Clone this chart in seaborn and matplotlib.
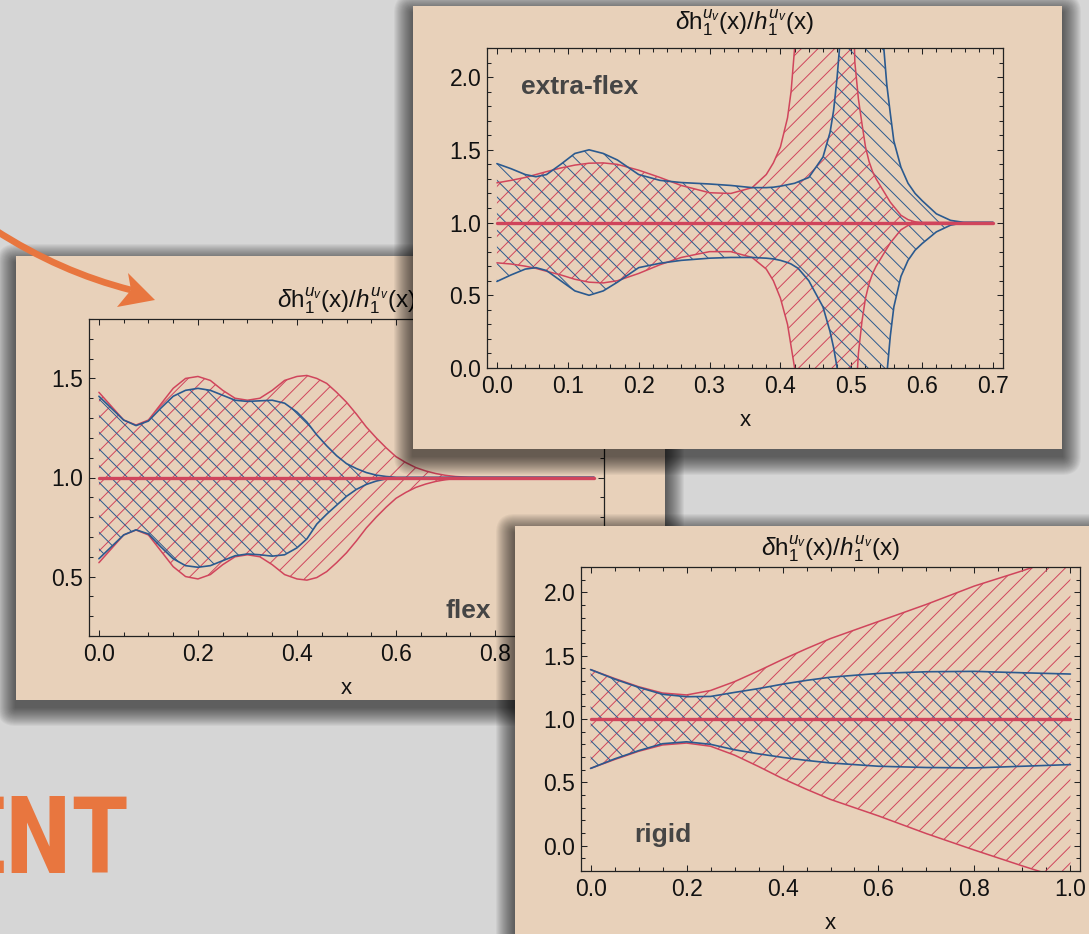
import matplotlib
matplotlib.use("Agg")
import matplotlib.pyplot as plt
import seaborn as sns
from matplotlib import font_manager as fm
from matplotlib.patches import FancyBboxPatch, Rectangle, PathPatch, Polygon
from matplotlib.path import Path
from matplotlib.ticker import MultipleLocator, FormatStrFormatter

# ---------------- data ----------------
flex_x = [0, 0.025, 0.05, 0.075, 0.1, 0.125, 0.15, 0.175, 0.2, 0.225, 0.25, 0.275,
          0.3, 0.325, 0.35, 0.375, 0.4, 0.42, 0.44, 0.46, 0.48, 0.5, 0.52, 0.54,
          0.56, 0.58, 0.6, 0.62, 0.64, 0.66, 0.68, 0.7, 0.72, 0.75, 0.8, 0.9, 1.0]
flex_red_up = [1.43, 1.36, 1.29, 1.265, 1.29, 1.37, 1.45, 1.50, 1.51, 1.49, 1.44, 1.40,
               1.39, 1.40, 1.44, 1.49, 1.51, 1.515, 1.50, 1.475, 1.43, 1.38, 1.32, 1.255,
               1.20, 1.15, 1.105, 1.075, 1.05, 1.033, 1.02, 1.011, 1.005, 1.001, 1.0, 1.0, 1.0]
flex_red_lo = [0.57, 0.64, 0.71, 0.735, 0.71, 0.63, 0.55, 0.50, 0.488, 0.51, 0.56, 0.60,
               0.61, 0.60, 0.56, 0.51, 0.488, 0.482, 0.495, 0.525, 0.57, 0.62, 0.68, 0.745,
               0.80, 0.85, 0.895, 0.925, 0.95, 0.967, 0.98, 0.989, 0.995, 0.999, 1.0, 1.0, 1.0]
flex_blue_up = [1.41, 1.35, 1.29, 1.262, 1.285, 1.35, 1.41, 1.44, 1.45, 1.44, 1.415, 1.39,
                1.384, 1.387, 1.39, 1.375, 1.33, 1.28, 1.215, 1.16, 1.11, 1.07, 1.045, 1.025,
                1.012, 1.005, 1.001, 1.0, 1.0, 1.0, 1.0, 1.0, 1.0, 1.0, 1.0, 1.0, 1.0]
flex_blue_lo = [0.59, 0.65, 0.71, 0.736, 0.715, 0.65, 0.59, 0.555, 0.547, 0.555, 0.58, 0.605,
                0.614, 0.61, 0.603, 0.61, 0.645, 0.69, 0.765, 0.815, 0.86, 0.905, 0.94, 0.965,
                0.982, 0.993, 0.998, 1.0, 1.0, 1.0, 1.0, 1.0, 1.0, 1.0, 1.0, 1.0, 1.0]

# values of 3.0 / -1.0 mean "off the top / bottom of the frame"
ef_x = [0, 0.02, 0.04, 0.055, 0.07, 0.09, 0.11, 0.13, 0.15, 0.17,
        0.2, 0.23, 0.26, 0.3, 0.33, 0.36, 0.38, 0.39, 0.4, 0.41,
        0.415, 0.42, 0.425, 0.44, 0.46, 0.47, 0.475, 0.48, 0.485, 0.49,
        0.5, 0.505, 0.51, 0.515, 0.52, 0.525, 0.53, 0.535, 0.54, 0.545,
        0.55, 0.555, 0.56, 0.57, 0.58, 0.59, 0.6, 0.62, 0.64, 0.66,
        0.68, 0.7]
ef_red_up = [1.273, 1.29, 1.31, 1.33, 1.35, 1.375, 1.395, 1.408, 1.41, 1.40,
             1.36, 1.31, 1.255, 1.205, 1.20, 1.24, 1.33, 1.41, 1.52, 1.72,
             1.9, 2.2, 3.0, 3.0, 3.0, 3.0, 3.0, 3.0, 3.0, 3.0,
             3.0, 2.1, 1.85, 1.68, 1.52, 1.42, 1.35, 1.30, 1.26, 1.22,
             1.18, 1.14, 1.11, 1.05, 1.02, 1.005, 1.0, 1.0, 1.0, 1.0,
             1.0, 1.0]
ef_red_lo = [0.723, 0.715, 0.70, 0.685, 0.665, 0.64, 0.61, 0.59, 0.585, 0.60,
             0.65, 0.71, 0.76, 0.80, 0.80, 0.76, 0.68, 0.60, 0.48, 0.30,
             0.15, 0.0, -1.0, -1.0, -1.0, -1.0, -1.0, -1.0, -1.0, -1.0,
             -1.0, -0.3, 0.1, 0.32, 0.48, 0.58, 0.65, 0.70, 0.74, 0.78,
             0.82, 0.86, 0.89, 0.95, 0.98, 0.995, 1.0, 1.0, 1.0, 1.0,
             1.0, 1.0]
ef_blue_up = [1.405, 1.37, 1.33, 1.315, 1.33, 1.40, 1.475, 1.50, 1.475, 1.43,
              1.33, 1.29, 1.275, 1.265, 1.255, 1.24, 1.24, 1.243, 1.25, 1.26,
              1.265, 1.27, 1.28, 1.31, 1.45, 1.62, 1.77, 2.0, 2.3, 3.0,
              3.0, 3.0, 3.0, 3.0, 3.0, 3.0, 3.0, 3.0, 3.0, 2.25,
              1.95, 1.75, 1.56, 1.38, 1.27, 1.2, 1.15, 1.06, 1.015, 1.0,
              1.0, 1.0]
ef_blue_lo = [0.595, 0.64, 0.68, 0.69, 0.67, 0.60, 0.53, 0.50, 0.53, 0.59,
              0.69, 0.72, 0.74, 0.755, 0.76, 0.76, 0.755, 0.75, 0.74, 0.725,
              0.715, 0.70, 0.685, 0.60, 0.42, 0.25, 0.14, 0.0, -0.5, -1.0,
              -1.0, -1.0, -1.0, -1.0, -1.0, -1.0, -1.0, -1.0, -1.0, -1.0,
              -0.05, 0.22, 0.42, 0.63, 0.74, 0.81, 0.856, 0.936, 0.982, 1.0,
              1.0, 1.0]

rig_x = [0, 0.05, 0.1, 0.15, 0.2, 0.25, 0.3, 0.35, 0.4, 0.45, 0.5, 0.6, 0.7, 0.8, 0.9, 1.0]
rig_red_up = [1.39, 1.32, 1.255, 1.205, 1.19, 1.225, 1.295, 1.38, 1.47, 1.555, 1.635,
              1.77, 1.905, 2.05, 2.17, 2.3]
rig_red_lo = [0.61, 0.68, 0.745, 0.795, 0.81, 0.785, 0.715, 0.625, 0.53, 0.445, 0.365,
              0.235, 0.095, -0.035, -0.16, -0.28]
rig_blue_up = [1.39, 1.315, 1.25, 1.195, 1.176, 1.178, 1.21, 1.24, 1.275, 1.305, 1.33,
               1.36, 1.373, 1.376, 1.365, 1.355]
rig_blue_lo = [0.61, 0.685, 0.75, 0.805, 0.82, 0.80, 0.757, 0.725, 0.697, 0.673, 0.653,
               0.627, 0.617, 0.614, 0.627, 0.64]

TITLE = r"$\delta\mathrm{h}_1^{u_v}\mathrm{(x)/}h_1^{u_v}\mathrm{(x)}$"
labels = ["flex", "extra-flex", "rigid"]
BIG_TEXT = "ENT"

# ---------------- style ----------------
W, H = 1089, 934
GREY = "#d6d6d6"
BEIGE = "#e8d1ba"
RED = "#d0455c"
BLUE = "#2b5a8f"
ORANGE = "#e8763f"
LABEL = "#454545"

sns.set_theme(style="ticks")
plt.rcParams["font.family"] = ["Liberation Sans", "DejaVu Sans"]
plt.rcParams.update({
    "mathtext.fontset": "custom",
    "mathtext.rm": "Liberation Sans",
    "mathtext.it": "Liberation Sans:italic",
    "mathtext.bf": "Liberation Sans:bold",
    "hatch.linewidth": 0.7,
    "axes.linewidth": 0.9,
    "axes.edgecolor": "#222222",
    "lines.solid_joinstyle": "round",
})


def condensed_bold():
    """Look for an installed condensed / narrow bold face."""
    prefs = ["liberation sans narrow", "roboto condensed", "open sans condensed",
             "dejavu sans condensed", "noto sans condensed"]
    found = []
    for f in fm.fontManager.ttflist:
        key = (f.name + " " + str(f.fname)).lower()
        stretch = str(f.stretch).lower()
        cond = ("narrow" in key or "condensed" in key or "condensed" in stretch)
        try:
            w = int(f.weight)
        except (TypeError, ValueError):
            w = {"bold": 700, "heavy": 800, "black": 900, "semibold": 600,
                 "demibold": 600, "extra bold": 800}.get(str(f.weight).lower(), 400)
        if cond and w >= 600 and str(f.style).lower() == "normal" and "mono" not in key:
            rank = len(prefs)
            for i, p in enumerate(prefs):
                if p in key:
                    rank = i
                    break
            found.append((rank, f.fname))
    if found:
        found.sort()
        return found[0][1]
    return None


fig = plt.figure(figsize=(W / 100, H / 100), dpi=100, facecolor=GREY)


def frac(l, t, r, b):
    return [l / W, 1 - b / H, (r - l) / W, (b - t) / H]


def panel_background(l, t, r, b, z):
    bg = fig.add_axes([0, 0, 1, 1], zorder=z)
    bg.set_xlim(0, W)
    bg.set_ylim(H, 0)
    bg.axis("off")
    dy = 7
    for p in range(1, 20):
        bg.add_patch(FancyBboxPatch((l, t + dy), r - l, b - t,
                                    boxstyle=f"round,pad={p},rounding_size={p}",
                                    facecolor="black", edgecolor="none", alpha=0.04))
    bg.add_patch(Rectangle((l, t), r - l, b - t, facecolor=BEIGE, edgecolor="none"))
    return bg


def draw_panel(axbox, z, xs, rup, rlo, bup, blo, xlim, ylim, xmaj, xminor, label, lxy,
               title_pad):
    ax = fig.add_axes(frac(*axbox), zorder=z)
    ax.set_facecolor("none")
    ax.fill_between(xs, rlo, rup, facecolor="none", edgecolor=RED, hatch="//",
                    linewidth=0, zorder=1)
    ax.fill_between(xs, blo, bup, facecolor="none", edgecolor=BLUE, hatch="\\\\",
                    linewidth=0, zorder=1)
    for ys in (rup, rlo):
        sns.lineplot(x=xs, y=ys, ax=ax, color=RED, linewidth=1.1, estimator=None,
                     sort=False, zorder=2)
    for ys in (bup, blo):
        sns.lineplot(x=xs, y=ys, ax=ax, color=BLUE, linewidth=1.2, estimator=None,
                     sort=False, zorder=2)
    sns.lineplot(x=[xs[0], xs[-1]], y=[1.0, 1.0], ax=ax, color=RED, linewidth=2.4,
                 estimator=None, sort=False, zorder=3)
    ax.set_xlim(*xlim)
    ax.set_ylim(*ylim)
    ax.xaxis.set_major_locator(MultipleLocator(xmaj))
    ax.xaxis.set_minor_locator(MultipleLocator(xminor))
    ax.yaxis.set_major_locator(MultipleLocator(0.5))
    ax.yaxis.set_minor_locator(MultipleLocator(0.1))
    ax.xaxis.set_major_formatter(FormatStrFormatter("%.1f"))
    ax.yaxis.set_major_formatter(FormatStrFormatter("%.1f"))
    ax.tick_params(which="both", direction="in", top=True, right=True,
                   labeltop=False, labelright=False, width=0.75, color="#222222",
                   labelsize=16.5, labelcolor="#111111")
    ax.tick_params(which="major", length=4.3)
    ax.tick_params(which="minor", length=2.9)
    ax.tick_params(axis="x", pad=5)
    ax.tick_params(axis="y", pad=4)
    for s in ax.spines.values():
        s.set_visible(True)
    ax.set_title(TITLE, fontsize=17.5, pad=title_pad, color="#111111")
    ax.set_xlabel("x", fontsize=16, labelpad=9, color="#111111")
    ax.set_ylabel("")
    ax.text(lxy[0], lxy[1], label, fontsize=19, fontweight="bold", color=LABEL,
            ha="left", va="baseline", zorder=4)
    return ax


# flex panel (bottom layer)
panel_background(16, 256, 665, 700, 1)
draw_panel((89, 319, 604, 636), 1.5, flex_x, flex_red_up, flex_red_lo,
           flex_blue_up, flex_blue_lo, (-0.02, 1.02), (0.2, 1.8), 0.2, 0.05,
           labels[0], (0.70, 0.293), 8.5)

# extra-flex panel
panel_background(413, 6, 1062, 449, 2)
draw_panel((487, 48, 1003, 368), 2.5, ef_x, ef_red_up, ef_red_lo,
           ef_blue_up, ef_blue_lo, (-0.014, 0.714), (0.0, 2.2), 0.1, 0.02,
           labels[1], (0.034, 1.885), 13)

# rigid panel
panel_background(515, 526, 1110, 960, 3)
draw_panel((581, 567, 1080, 871), 3.5, rig_x, rig_red_up, rig_red_lo,
           rig_blue_up, rig_blue_lo, (-0.02, 1.02), (-0.2, 2.2), 0.2, 0.05,
           labels[2], (0.09, 0.03), 8.5)

# overlay: arrow and big orange text
ov = fig.add_axes([0, 0, 1, 1], zorder=10)
ov.set_xlim(0, W)
ov.set_ylim(H, 0)
ov.axis("off")
shaft = Path([(-5, 230), (60, 272), (131, 290)], [Path.MOVETO, Path.CURVE3, Path.CURVE3])
ov.add_patch(PathPatch(shaft, facecolor="none", edgecolor=ORANGE, linewidth=4.8,
                       capstyle="butt"))
ov.add_patch(Polygon([(155, 300), (128, 273), (131, 290), (117, 307)], closed=True,
                     facecolor=ORANGE, edgecolor="none"))

cond = condensed_bold()
if cond is not None:
    fp = fm.FontProperties(fname=cond, size=77)
    ov.text(130, 873, BIG_TEXT, fontproperties=fp, color=ORANGE, ha="right",
            va="baseline")
else:
    ov.text(130, 873, BIG_TEXT, fontsize=68, fontweight="bold", color=ORANGE,
            ha="right", va="baseline")

fig.savefig("out.png", dpi=100, facecolor=GREY)
